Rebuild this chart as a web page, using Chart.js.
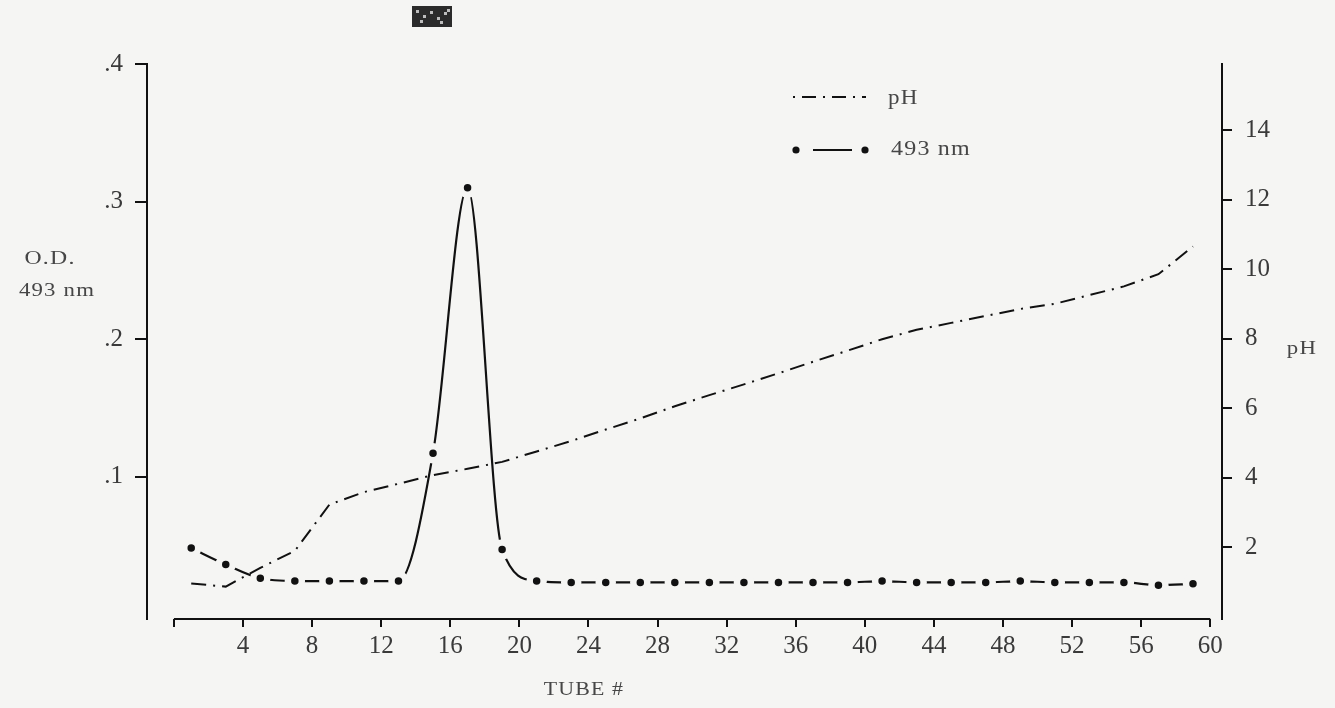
<!DOCTYPE html>
<html><head><meta charset="utf-8">
<script src="https://cdn.jsdelivr.net/npm/chart.js@4/dist/chart.umd.min.js"></script>
<style>
html,body{margin:0;padding:0;background:#f5f5f3;}
#wrap{width:1335px;height:708px;position:relative;}
</style>
</head><body><div id="wrap"><canvas id="c" width="1335" height="708"></canvas></div>
<script>
// ---- data ----
const tubes = [1,3,5,7,9,11,13,15,17,19,21,23,25,27,29,31,33,35,37,39,41,43,45,47,49,51,53,55,57,59];
const od493 = [0.048,0.036,0.026,0.024,0.024,0.024,0.024,0.117,0.310,0.047,
               0.024,0.023,0.023,0.023,0.023,0.023,0.023,0.023,0.023,0.023,
               0.024,0.023,0.023,0.023,0.024,0.023,0.023,0.023,0.021,0.022];
const pH = [0.95,0.86,1.40,1.89,3.22,3.58,3.82,4.07,4.25,4.45,
            4.75,5.05,5.38,5.70,6.05,6.37,6.68,7.00,7.33,7.65,
            7.98,8.25,8.45,8.65,8.85,9.00,9.25,9.50,9.85,10.65];
const xTicks = [0,4,8,12,16,20,24,28,32,36,40,44,48,52,56,60];
const odTicks = [0.1,0.2,0.3,0.4];
const pHTicks = [2,4,6,8,10,12,14];
const labels = { xTitle:'TUBE #', yTitle1:'O.D.', yTitle2:'493 nm', y1Title:'pH', legPH:'pH', legOD:'493 nm' };

const BG = '#f5f5f3';
const INK = '#111';
const TXT = '#3a3a3a';
const SERIF = '"Liberation Serif", "Times New Roman", serif';

function stretchText(ctx, text, x, y, align, sx){
  ctx.save();
  ctx.translate(x, y);
  ctx.scale(sx, 1);
  ctx.textAlign = align;
  ctx.fillText(text, 0, 0);
  ctx.restore();
}

const decor = {
  id:'decor',
  beforeDraw(chart){
    const ctx = chart.ctx;
    ctx.save(); ctx.fillStyle = BG; ctx.fillRect(0,0,chart.width,chart.height); ctx.restore();
  },
  afterDraw(chart){
    const ctx = chart.ctx, xs = chart.scales.x, ca = chart.chartArea;
    ctx.save();
    // x axis line from tube 0 to 60
    ctx.strokeStyle = INK; ctx.lineWidth = 2;
    ctx.beginPath();
    ctx.moveTo(xs.getPixelForValue(xTicks[0]), ca.bottom);
    ctx.lineTo(xs.getPixelForValue(xTicks[xTicks.length-1]), ca.bottom);
    ctx.stroke();
    // titles
    ctx.fillStyle = '#464646';
    ctx.textBaseline = 'middle';
    ctx.font = '19px ' + SERIF;
    try { ctx.letterSpacing = '1px'; } catch(e){}
    stretchText(ctx, labels.yTitle1, 50, 259, 'center', 1.25);
    stretchText(ctx, labels.yTitle2, 57, 291, 'center', 1.2);
    stretchText(ctx, labels.y1Title, 1302, 349, 'center', 1.2);
    stretchText(ctx, labels.xTitle, 584, 690, 'center', 1.15);
    // legend
    ctx.font = '20px ' + SERIF;
    stretchText(ctx, labels.legPH, 888, 99, 'left', 1.15);
    stretchText(ctx, labels.legOD, 891, 150, 'left', 1.2);
    ctx.strokeStyle = INK; ctx.lineWidth = 2;
    ctx.setLineDash([2,7,14,7]);
    ctx.beginPath(); ctx.moveTo(793,97); ctx.lineTo(866,97); ctx.stroke();
    ctx.setLineDash([]);
    ctx.beginPath(); ctx.moveTo(813,150); ctx.lineTo(852,150); ctx.stroke();
    ctx.fillStyle = INK;
    [[796,150],[865,150]].forEach(p=>{ctx.beginPath();ctx.arc(p[0],p[1],3.6,0,Math.PI*2);ctx.fill();});
    // scanning artifact stamp at top
    ctx.fillStyle = '#2b2b2b';
    ctx.fillRect(412,6,40,21);
    ctx.fillStyle = '#bdbdbd';
    [[416,10],[423,15],[430,11],[437,17],[444,12],[420,20],[440,21],[447,9]].forEach(p=>ctx.fillRect(p[0],p[1],3,3));
    ctx.restore();
  }
};

const ctx = document.getElementById('c').getContext('2d');
new Chart(ctx, {
  type:'line',
  data:{
    datasets:[
      {
        label:'pH',
        data: tubes.map((t,i)=>({x:t,y:pH[i]})),
        yAxisID:'y1',
        borderColor:INK, borderWidth:2,
        borderDash:[15,7,2,7],
        pointRadius:0, tension:0,
        order:0
      },
      {
        label:'493 nm',
        data: tubes.map((t,i)=>({x:t,y:od493[i]})),
        yAxisID:'y',
        borderColor:INK, borderWidth:2.2,
        pointRadius:7, pointBorderWidth:6.5,
        pointBackgroundColor:INK, pointBorderColor:BG,
        pointHoverRadius:7,
        cubicInterpolationMode:'monotone',
        order:1
      }
    ]
  },
  options:{
    responsive:false, animation:false, devicePixelRatio:1,
    layout:{ padding:{top:64,left:0,right:0,bottom:0}, autoPadding:false },
    plugins:{ legend:{display:false}, tooltip:{enabled:false} },
    scales:{
      x:{
        type:'linear', min:-1.56, max:60.68,
        afterBuildTicks:(s)=>{ s.ticks = xTicks.map(v=>({value:v})); },
        afterFit:(s)=>{ s.height = 89; },
        border:{display:false},
        grid:{ drawOnChartArea:false, drawTicks:true, tickLength:8, color:INK, lineWidth:2 },
        ticks:{ autoSkip:false, maxRotation:0, padding:4, color:TXT, font:{family:SERIF,size:25},
                callback:(v)=> v===0 ? '' : String(v) }
      },
      y:{
        type:'linear', position:'left', min:-0.0036, max:0.4,
        afterBuildTicks:(s)=>{ s.ticks = odTicks.map(v=>({value:v})); },
        afterFit:(s)=>{ s.width = 147; },
        border:{display:true, color:INK, width:2},
        grid:{ drawOnChartArea:false, drawTicks:true, tickLength:12, color:INK, lineWidth:2 },
        ticks:{ padding:12, color:TXT, font:{family:SERIF,size:25},
                callback:(v)=> '.' + Math.round(v*10) }
      },
      y1:{
        type:'linear', position:'right', min:-0.072, max:15.9,
        afterBuildTicks:(s)=>{ s.ticks = pHTicks.map(v=>({value:v})); },
        afterFit:(s)=>{ s.width = 113; },
        border:{display:true, color:INK, width:2},
        grid:{ drawOnChartArea:false, drawTicks:true, tickLength:10, color:INK, lineWidth:2 },
        ticks:{ padding:13, color:TXT, font:{family:SERIF,size:25},
                callback:(v)=> String(v) }
      }
    }
  },
  plugins:[decor]
});
</script>
</body></html>
